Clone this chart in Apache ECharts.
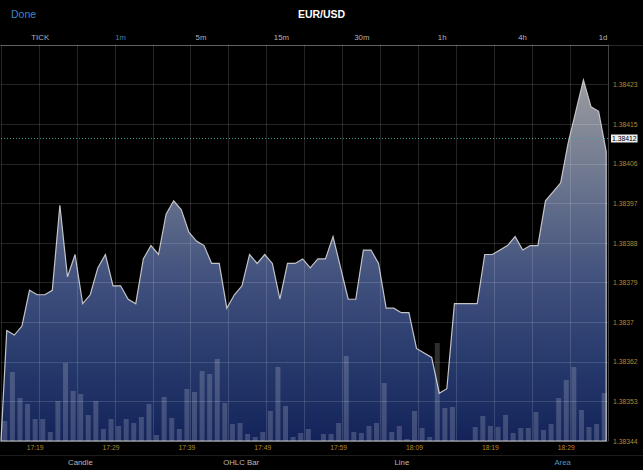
<!DOCTYPE html>
<html><head><meta charset="utf-8">
<script src="https://cdn.jsdelivr.net/npm/echarts@6/dist/echarts.min.js"></script>
<style>html,body{margin:0;padding:0;background:#000;}#c{width:643px;height:470px;}</style>
</head><body><div id="c"></div>
<script>
// ---- data ----
const times = ['17:15','17:16','17:17','17:18','17:19','17:20','17:21','17:22','17:23','17:24',
  '17:25','17:26','17:27','17:28','17:29','17:30','17:31','17:32','17:33','17:34',
  '17:35','17:36','17:37','17:38','17:39','17:40','17:41','17:42','17:43','17:44',
  '17:45','17:46','17:47','17:48','17:49','17:50','17:51','17:52','17:53','17:54',
  '17:55','17:56','17:57','17:58','17:59','18:00','18:01','18:02','18:03','18:04',
  '18:05','18:06','18:07','18:08','18:09','18:10','18:11','18:12','18:13','18:14',
  '18:15','18:16','18:17','18:18','18:19','18:20','18:21','18:22','18:23','18:24',
  '18:25','18:26','18:27','18:28','18:29','18:30','18:31','18:32','18:33','18:34'];
const prices = [1.38369,1.38368,1.38370,1.38378,1.38377,1.38377,1.38378,1.38397,1.38381,1.38386,
  1.38375,1.38377,1.38383,1.38386,1.38379,1.38379,1.38376,1.38375,1.38385,1.38388,
  1.38386,1.38395,1.38398,1.38396,1.38391,1.38389,1.38388,1.38384,1.38384,1.38374,
  1.38377,1.38379,1.38386,1.38384,1.38386,1.38384,1.38376,1.38384,1.38384,1.38385,
  1.38383,1.38385,1.38385,1.38390,1.38383,1.38376,1.38376,1.38387,1.38387,1.38384,
  1.38374,1.38374,1.38373,1.38373,1.38365,1.38364,1.38363,1.38355,1.38356,1.38375,
  1.38375,1.38375,1.38375,1.38386,1.38386,1.38387,1.38388,1.38390,1.38387,1.38388,
  1.38388,1.38398,1.38400,1.38402,1.38411,1.38418,1.38425,1.38419,1.38418,1.38409];
const volumes = [20,69,43,37,22,22,9,40,78,50,
  47,26,40,12,22,15,22,18,24,37,
  6,44,23,12,52,49,70,67,82,38,
  17,18,7,4,9,30,74,35,4,8,
  12,0,7,7,18,85,9,8,15,18,
  58,9,15,2,30,13,4,98,33,34,
  0,0,14,25,15,14,26,8,13,13,
  29,11,17,43,61,74,31,14,17,48];
const yTickLabels = ['1.38344','1.38353','1.38362','1.3837','1.38379','1.38388','1.38397','1.38406','1.38415','1.38423'];
const yMin = 1.3834432;
const yStep = 0.0000885;
const currentPrice = 1.38412;
const topTabs = ['TICK','1m','5m','15m','30m','1h','4h','1d'];
const bottomTabs = ['Candle','OHLC Bar','Line','Area'];
const title = 'EUR/USD';

// ---- chart ----
const FONT = '"Liberation Sans", Arial, Helvetica, sans-serif';
const gridColor = 'rgba(255,255,255,0.14)';
const orange = '#b8862f';
const chart = echarts.init(document.getElementById('c'), null, {renderer: 'svg', width: 643, height: 470});

const areaFill = new echarts.graphic.LinearGradient(0, 45, 0, 441, [
  {offset: 0, color: '#adadb0'},
  {offset: 0.15, color: '#8f929b'},
  {offset: 0.4, color: '#616d8a'},
  {offset: 0.6, color: '#40507d'},
  {offset: 0.8, color: '#273a6c'},
  {offset: 1, color: '#13235a'}
], true);

const graphics = [];
graphics.push({type: 'text', left: 11, top: 8, style: {text: 'Done', fill: '#3b88c8', font: '10.5px ' + FONT}});
graphics.push({type: 'text', x: 321.5, y: 14, style: {text: title, fill: '#ffffff', font: 'bold 10.5px ' + FONT, textAlign: 'center', textVerticalAlign: 'middle'}});
topTabs.forEach((t, i) => {
  graphics.push({type: 'text', x: 40.2 + 80.4 * i, y: 37, style: {text: t, fill: t === '1m' ? '#3e7fa8' : '#b4b4b4', font: '7.8px ' + FONT, textAlign: 'center', textVerticalAlign: 'middle'}});
});
bottomTabs.forEach((t, i) => {
  graphics.push({type: 'text', x: 80.4 + 160.75 * i, y: 462.5, style: {text: t, fill: t === 'Area' ? '#4a93cb' : '#b9b9b9', font: '7.8px ' + FONT, textAlign: 'center', textVerticalAlign: 'middle'}});
});
graphics.push({type: 'line', shape: {x1: 0, y1: 45.5, x2: 643, y2: 45.5}, style: {stroke: '#2a2a2a', lineWidth: 1}, z: -1});
graphics.push({type: 'line', shape: {x1: 0, y1: 455.5, x2: 643, y2: 455.5}, style: {stroke: '#1c1c1c', lineWidth: 1}, z: -1});

chart.setOption({
  backgroundColor: '#000',
  animation: false,
  textStyle: {fontFamily: FONT},
  grid: {left: 1, right: 35, top: 45, bottom: 29, containLabel: false},
  graphic: graphics,
  xAxis: [
    {
      type: 'category', data: times, boundaryGap: true, z: 3,
      axisLine: {show: false, onZero: false}, axisTick: {show: false},
      axisLabel: {interval: (i) => i % 10 === 4, color: orange, fontSize: 6.8, margin: 3, fontFamily: FONT},
      splitLine: {show: true, interval: (i) => i % 5 === 0, lineStyle: {color: gridColor, width: 1}}
    },
    {type: 'value', min: -0.76, max: 79.24, show: false, axisLine: {onZero: false}}
  ],
  yAxis: [
    {
      type: 'value', position: 'right', min: yMin, max: yMin + 10 * yStep, interval: yStep, z: 3,
      axisLine: {show: true, onZero: false, lineStyle: {color: gridColor}}, axisTick: {show: false},
      axisLabel: {color: orange, fontSize: 6.8, margin: 5, fontFamily: FONT, formatter: (v, i) => yTickLabels[i] || ''},
      splitLine: {show: true, lineStyle: {color: gridColor, width: 1}}
    },
    {type: 'value', min: 0, max: 396, show: false, axisLine: {onZero: false}}
  ],
  series: [
    {
      type: 'custom', xAxisIndex: 1, yAxisIndex: 0, z: 1, silent: true, clip: false,
      data: prices.map((p, i) => [i, p]),
      encode: {x: 0, y: 1},
      renderItem: function (params, api) {
        if (params.dataIndex !== 0) return null;
        const cs = params.coordSys;
        const bottom = cs.y + cs.height;
        const pts = [[cs.x, bottom]];
        for (let i = 0; i < prices.length; i++) pts.push(api.coord([i, prices[i]]));
        pts.push([pts[pts.length - 1][0], bottom]);
        const cy = Math.round(api.coord([0, currentPrice])[1]) + 0.5;
        return {
          type: 'group',
          children: [
            {type: 'polygon', shape: {points: pts}, style: {fill: areaFill, stroke: '#c4c4c8', lineWidth: 1.2}},
            {type: 'line', shape: {x1: cs.x, y1: cy, x2: cs.x + cs.width, y2: cy},
              style: {stroke: '#3f9a9a', lineWidth: 1, lineDash: [1, 2]}},
            {type: 'text', x: cs.x + cs.width + 3, y: cy,
              style: {text: String(currentPrice), fill: '#000', backgroundColor: '#eeeeee',
                padding: [1, 1, 0, 1], font: '6.8px ' + FONT, textVerticalAlign: 'middle', textAlign: 'left'}}
          ]
        };
      }
    },
    {
      type: 'bar', xAxisIndex: 0, yAxisIndex: 1, z: 4, silent: true,
      data: volumes, barWidth: 5,
      itemStyle: {color: 'rgba(255,255,255,0.18)'}
    }
  ]
});
</script>
</body></html>
